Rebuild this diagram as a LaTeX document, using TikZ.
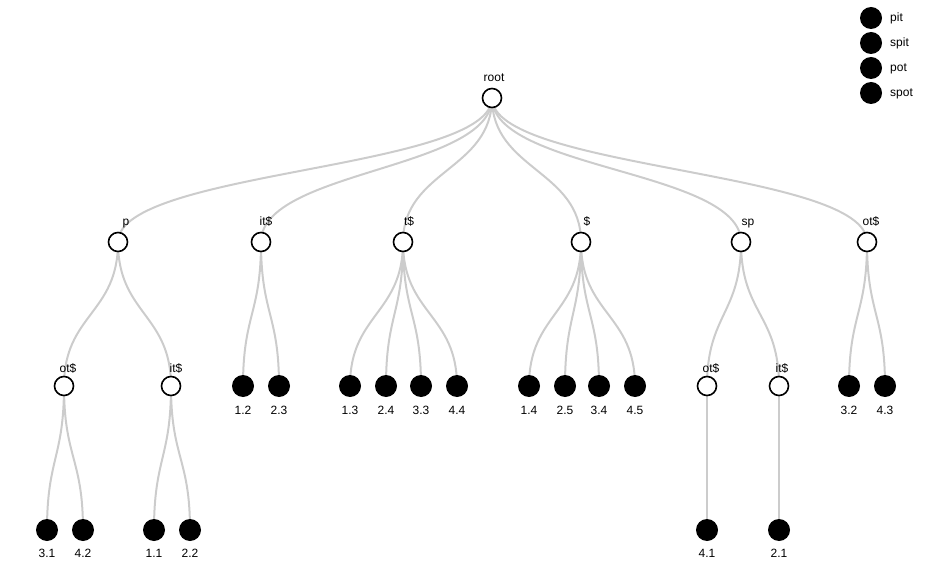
\documentclass[tikz,border=0pt]{standalone}
\usepackage{fontspec}
\setmainfont{Liberation Sans}
\usetikzlibrary{calc,backgrounds}
\begin{document}
\begin{tikzpicture}[x=1pt,y=-1pt,
  inode/.style={circle,draw=black,line width=1.6pt,fill=white,minimum size=19pt,inner sep=0pt},
  leaf/.style={circle,fill=black,minimum size=22pt,inner sep=0pt},
  lab/.style={anchor=base,inner sep=0pt,font=\fontsize{12}{14}\selectfont},
  edge/.style={draw=black!20,line width=2pt}]
\useasboundingbox (0,0) rectangle (939,569);
% internal nodes
\node[inode] (root) at (492,98) {};
\node[inode] (p) at (118,242) {};
\node[inode] (its) at (261,242) {};
\node[inode] (ts) at (403,242) {};
\node[inode] (dl) at (581,242) {};
\node[inode] (sp) at (741,242) {};
\node[inode] (ots) at (867,242) {};
\node[inode] (pot) at (64,386) {};
\node[inode] (pit) at (171,386) {};
\node[inode] (spot) at (707,386) {};
\node[inode] (spit) at (779,386) {};
% labels of internal nodes
\node[lab] (root-l) at (494,82) {root};
\node[lab] (p-l) at (126,226) {p};
\node[lab] (its-l) at (266,226) {it\$};
\node[lab] (ts-l) at (409,226) {t\$};
\node[lab] (dl-l) at (587,226) {\$};
\node[lab] (sp-l) at (748,226) {sp};
\node[lab] (ots-l) at (871,226) {ot\$};
\node[lab] (pot-l) at (68,372) {ot\$};
\node[lab] (pit-l) at (176,372) {it\$};
\node[lab] (spot-l) at (711,372) {ot\$};
\node[lab] (spit-l) at (782,372) {it\$};
% leaves level 2
\foreach \n/\x/\t in {a/243/1.2,b/279/2.3,c/350/1.3,d/386/2.4,e/421/3.3,f/457/4.4,
  g/529/1.4,h/565/2.5,i/599/3.4,j/635/4.5,k/849/3.2,l/885/4.3}{
  \node[leaf] (\n) at (\x,386) {};
  \node[lab] (\n-l) at (\x,414) {\t};
}
% leaves level 3
\foreach \n/\x/\t in {m/47/3.1,n/83/4.2,o/154/1.1,q/190/2.2,r/707/4.1,s/779/2.1}{
  \node[leaf] (\n) at (\x,530) {};
  \node[lab] (\n-l) at (\x,557) {\t};
}
% legend
\foreach \n/\y/\t in {la/18/pit,lb/43/spit,lc/68/pot,ld/93/spot}{
  \node[leaf] (\n) at (871,\y) {};
  \node[lab,anchor=base west] (\n-l) at (890,\y+4) {\t};
}
% edges
\begin{scope}[on background layer]
\foreach \a/\b in {root/p,root/its,root/ts,root/dl,root/sp,root/ots,
  p/pot,p/pit,its/a,its/b,ts/c,ts/d,ts/e,ts/f,dl/g,dl/h,dl/i,dl/j,
  sp/spot,sp/spit,ots/k,ots/l,pot/m,pot/n,pit/o,pit/q,spot/r,spit/s}{
  \path ($(\a.center)!0.5!(\b.center)$) coordinate (m-\a-\b);
  \draw[edge] (\a.center) .. controls (\a.center |- m-\a-\b) and (\b.center |- m-\a-\b) .. (\b.center);
}
\end{scope}
\end{tikzpicture}
\end{document}
